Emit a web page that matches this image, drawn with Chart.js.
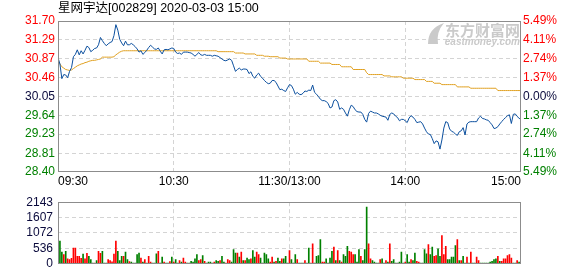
<!DOCTYPE html>
<html>
<head>
<meta charset="utf-8">
<script src="https://cdn.jsdelivr.net/npm/chart.js@4.4.0/dist/chart.umd.min.js"></script>
<style>
  body { margin: 0; background: #fff; }
  #wrap { position: relative; width: 578px; height: 276px; }
  canvas { position: absolute; left: 0; }
</style>
</head>
<body>
<div id="wrap">
  <canvas id="priceChart" width="578" height="190" style="top:0"></canvas>
  <canvas id="volChart" width="578" height="86" style="top:190px"></canvas>
</div>
<script>
const title = '星网宇达[002829] 2020-03-03 15:00';
const prevClose = 30.05;
const timeTicks = [0, 60, 120, 180, 240];
const timeLabels = ['09:30', '10:30', '11:30/13:00', '14:00', '15:00'];
const priceTicks = [28.40, 28.81, 29.23, 29.64, 30.05, 30.46, 30.87, 31.29, 31.70];
const pctLabels = ['5.49%', '4.11%', '2.74%', '1.37%', '0.00%', '1.37%', '2.74%', '4.11%', '5.49%'];
const volTicks = [0, 536, 1072, 1607, 2143];

// one value per minute, 09:30 .. 11:30/13:00 .. 15:00
const price = [
  30.90, 30.76, 30.44, 30.53, 30.52, 30.46, 30.60, 30.68, 30.92, 30.97,
  31.07, 30.96, 31.05, 30.98, 31.06, 31.15, 31.12, 31.03, 31.06, 31.10,
  31.11, 31.18, 31.34, 31.27, 31.21, 31.16, 31.20, 31.23, 31.25, 31.38,
  31.62, 31.50, 31.30, 31.22, 31.16, 31.26, 31.18, 31.18, 31.21, 31.18,
  31.14, 31.09, 31.02, 31.05, 30.97, 31.01, 31.06, 31.12, 31.17, 31.13,
  31.09, 31.08, 31.11, 31.04, 30.98, 31.07, 31.08, 31.07, 31.09, 31.11,
  31.10, 31.02, 30.99, 31.00, 30.97, 31.02, 31.02, 31.02, 31.01, 31.00,
  30.97, 30.93, 30.97, 31.01, 30.96, 30.95, 30.97, 30.95, 30.95, 30.95,
  30.93, 30.95, 30.94, 30.93, 30.90, 30.87, 30.84, 30.83, 30.85, 30.87,
  30.84, 30.72, 30.60, 30.64, 30.67, 30.63, 30.65, 30.65, 30.64, 30.55,
  30.59, 30.49, 30.45, 30.52, 30.56, 30.49, 30.45, 30.40, 30.36, 30.33,
  30.34, 30.40, 30.40, 30.36, 30.28, 30.20, 30.21, 30.18, 30.16, 30.24,
  30.31, 30.29, 30.21, 30.10, 30.14, 30.10, 30.09, 30.12, 30.17, 30.16,
  30.19, 30.18, 30.30, 30.14, 30.10, 30.05, 29.99, 29.96, 29.96, 29.94,
  29.90, 29.80, 29.82, 29.96, 29.98, 29.93, 29.77, 29.80, 29.77, 29.69,
  29.62, 29.76, 29.86, 29.83, 29.76, 29.72, 29.71, 29.71, 29.66, 29.55,
  29.49, 29.68, 29.73, 29.71, 29.69, 29.69, 29.67, 29.64, 29.62, 29.61,
  29.60, 29.53, 29.66, 29.69, 29.67, 29.62, 29.59, 29.52, 29.55, 29.55,
  29.52, 29.48, 29.58, 29.63, 29.60, 29.55, 29.48, 29.49, 29.50, 29.45,
  29.36, 29.28, 29.23, 29.22, 29.13, 29.02, 29.08, 29.06, 28.90, 29.10,
  29.36, 29.50, 29.48, 29.34, 29.29, 29.27, 29.23, 29.20, 29.28, 29.30,
  29.37, 29.21, 29.45, 29.49, 29.50, 29.50, 29.50, 29.50, 29.58, 29.62,
  29.57, 29.56, 29.54, 29.53, 29.48, 29.43, 29.35, 29.36, 29.39, 29.45,
  29.50, 29.55, 29.59, 29.63, 29.65, 29.46, 29.66, 29.67, 29.62, 29.57,
  29.56
];

const avgPrice = [
  30.84, 30.76, 30.70, 30.67, 30.64, 30.63, 30.62, 30.63, 30.66, 30.69,
  30.72, 30.74, 30.76, 30.77, 30.79, 30.80, 30.82, 30.83, 30.84, 30.84,
  30.85, 30.86, 30.87, 30.91, 30.91, 30.91, 30.91, 30.91, 30.91, 30.92,
  30.96, 30.99, 31.02, 31.04, 31.05, 31.05, 31.05, 31.05, 31.05, 31.05,
  31.05, 31.05, 31.05, 31.05, 31.05, 31.05, 31.05, 31.05, 31.05, 31.05,
  31.05, 31.05, 31.05, 31.05, 31.05, 31.05, 31.05, 31.05, 31.05, 31.05,
  31.05, 31.05, 31.05, 31.05, 31.05, 31.05, 31.05, 31.05, 31.05, 31.05,
  31.05, 31.05, 31.05, 31.05, 31.05, 31.05, 31.05, 31.05, 31.05, 31.05,
  31.05, 31.05, 31.05, 31.03, 31.03, 31.03, 31.03, 31.03, 31.03, 31.03,
  31.03, 31.03, 31.00, 31.00, 31.00, 31.00, 31.00, 30.98, 30.98, 30.98,
  30.98, 30.98, 30.98, 30.95, 30.95, 30.95, 30.95, 30.93, 30.93, 30.93,
  30.92, 30.92, 30.92, 30.92, 30.92, 30.89, 30.89, 30.89, 30.89, 30.87,
  30.87, 30.87, 30.87, 30.87, 30.87, 30.87, 30.87, 30.87, 30.87, 30.87,
  30.82, 30.82, 30.82, 30.82, 30.82, 30.82, 30.78, 30.78, 30.78, 30.78,
  30.78, 30.78, 30.75, 30.75, 30.75, 30.75, 30.75, 30.70, 30.70, 30.70,
  30.70, 30.70, 30.70, 30.64, 30.64, 30.64, 30.64, 30.64, 30.64, 30.64,
  30.57, 30.53, 30.53, 30.53, 30.53, 30.53, 30.53, 30.53, 30.53, 30.50,
  30.50, 30.50, 30.50, 30.48, 30.48, 30.48, 30.48, 30.48, 30.48, 30.45,
  30.45, 30.45, 30.45, 30.45, 30.45, 30.42, 30.42, 30.42, 30.42, 30.42,
  30.42, 30.38, 30.38, 30.38, 30.38, 30.34, 30.34, 30.34, 30.34, 30.31,
  30.31, 30.31, 30.31, 30.31, 30.31, 30.31, 30.31, 30.26, 30.26, 30.26,
  30.26, 30.26, 30.26, 30.26, 30.23, 30.23, 30.23, 30.23, 30.23, 30.23,
  30.23, 30.23, 30.23, 30.23, 30.23, 30.23, 30.23, 30.23, 30.18, 30.18,
  30.18, 30.18, 30.18, 30.18, 30.18, 30.18, 30.18, 30.18, 30.18, 30.18,
  30.18
];

const volume = [
  29, 791, 405, 318, 434, 174, 145, 193, 550, 550,
  261, 261, 193, 338, 174, 367, 261, 145, 29, 29,
  116, 434, 367, 434, 29, 29, 145, 116, 68, 338,
  791, 434, 116, 261, 261, 405, 145, 77, 58, 29,
  29, 318, 376, 203, 58, 145, 29, 261, 58, 29,
  29, 347, 434, 29, 232, 58, 29, 29, 77, 232,
  58, 145, 29, 116, 58, 203, 58, 29, 29, 87,
  58, 174, 318, 116, 145, 290, 87, 29, 58, 58,
  29, 58, 116, 87, 116, 261, 58, 29, 145, 116,
  58, 492, 376, 376, 232, 405, 116, 116, 203, 145,
  174, 463, 232, 405, 318, 203, 29, 376, 318, 174,
  58, 232, 58, 87, 203, 87, 174, 174, 261, 29,
  463, 145, 29, 318, 145, 29, 29, 29, 116, 29,
  550, 29, 695, 29, 261, 290, 840, 58, 58, 174,
  29, 203, 434, 579, 116, 463, 116, 58, 318, 261,
  608, 434, 405, 318, 318, 58, 492, 261, 116, 492,
  1969, 695, 174, 116, 58, 29, 29, 145, 174, 29,
  116, 58, 695, 87, 145, 29, 29, 58, 405, 29,
  58, 318, 58, 145, 116, 376, 87, 58, 29, 29,
  492, 347, 666, 318, 579, 261, 290, 521, 261, 984,
  318, 608, 145, 145, 232, 232, 637, 840, 116, 116,
  261, 29, 232, 29, 405, 29, 29, 232, 116, 29,
  29, 29, 29, 29, 58, 87, 145, 174, 261, 87,
  87, 174, 174, 290, 318, 203, 29, 29, 116, 58,
  29
];

// u = minute closed up (red), d = down (green)
const volDir = (
  'd' + 'dduduuuuuu' + 'uuduudddud' + 'uuddduuuuu' + 'dddudduddd' + 'ddududuudd' +
  'dudduddudu' + 'dduduudddd' + 'dduududddd' + 'uddudduuud' + 'ddudududdu' +
  'dduudddddu' + 'ududdudd' + 'd' +
  'udddudddud' + 'duudddduud' + 'dddudududd' + 'duuudddudd' + 'duuddddudd' +
  'ududddddd' + 'd' + 'uddudduuddd' + 'dudduudduu' + 'udddddudud' + 'dududduudd' +
  'd' + 'dddddduduu' + 'uuuuddud' + 'd'
).split('');

if (price.length !== 241 || avgPrice.length !== 241 || volume.length !== 241 || volDir.length !== 241) {
  throw new Error('lengths ' + price.length + ' ' + avgPrice.length + ' ' + volume.length + ' ' + volDir.length);
}

const RED = '#ff0000';
const GREEN = '#008000';
const NAVY = '#0a0a3c';
const GRID = '#d4d4d4';
const FRAME = '#8c8c8c';
const FONT = '"Liberation Sans", Arial, "Noto Sans CJK SC", sans-serif';

const levelColor = v => v > prevClose + 0.001 ? RED : (v < prevClose - 0.001 ? GREEN : NAVY);
const edgeClear = n => ctx => (ctx.index === 0 || ctx.index === n - 1) ? 'rgba(0,0,0,0)' : GRID;

const framePlugin = {
  id: 'frame',
  afterDraw(chart) {
    const { ctx, chartArea: a } = chart;
    ctx.save();
    ctx.strokeStyle = FRAME;
    ctx.lineWidth = 1;
    ctx.strokeRect(Math.round(a.left) + 0.5, Math.round(a.top) + 0.5,
      Math.round(a.right - a.left) - 1, Math.round(a.bottom - a.top) - 1);
    ctx.restore();
  }
};

const priceDecor = {
  id: 'priceDecor',
  beforeDatasetsDraw(chart) {
    const { ctx, chartArea: a } = chart;
    ctx.save();
    // watermark
    ctx.fillStyle = '#cacaca';
    ctx.textBaseline = 'middle';
    ctx.textAlign = 'right';
    ctx.font = 'bold 15px "Noto Sans CJK SC", sans-serif';
    ctx.fillText('东方财富网', a.right - 1, 30);
    ctx.font = 'italic bold 10px ' + FONT;
    ctx.fillText('eastmoney.com', a.right - 1, 42);
    ctx.beginPath();
    ctx.moveTo(428, 44);
    ctx.quadraticCurveTo(428, 28, 444, 23);
    ctx.quadraticCurveTo(436, 32, 438, 44);
    ctx.closePath();
    ctx.fill();
    ctx.restore();
  },
  afterDraw(chart) {
    const { ctx, chartArea: a } = chart;
    const xs = chart.scales.x;
    ctx.save();
    ctx.fillStyle = '#000';
    ctx.textBaseline = 'middle';
    ctx.font = '12.5px ' + FONT;
    ctx.textAlign = 'left';
    ctx.fillText(title, Math.round(a.left), 9);
    ctx.font = '12px ' + FONT;
    timeTicks.forEach((t, i) => {
      ctx.textAlign = i === 0 ? 'left' : (i === timeTicks.length - 1 ? 'right' : 'center');
      ctx.fillText(timeLabels[i], xs.getPixelForValue(t), 182);
    });
    ctx.restore();
  }
};

const xScale = {
  type: 'linear',
  min: 0,
  max: 240,
  offset: false,
  afterBuildTicks: s => { s.ticks = timeTicks.map(v => ({ value: v })); },
  afterFit: s => { s.height = 0; },
  ticks: { display: false },
  grid: { color: edgeClear(timeTicks.length), drawTicks: false, offset: false },
  border: { display: false, dash: [4, 3] }
};

new Chart(document.getElementById('priceChart'), {
  type: 'line',
  data: {
    datasets: [
      {
        label: 'price',
        data: price.map((v, i) => ({ x: i, y: v })),
        borderColor: '#0b4f9e',
        borderWidth: 1,
        pointRadius: 0,
        tension: 0
      },
      {
        label: 'average',
        data: avgPrice.map((v, i) => ({ x: i, y: v })),
        borderColor: '#e0a020',
        borderWidth: 1,
        pointRadius: 0,
        tension: 0
      }
    ]
  },
  options: {
    responsive: false,
    animation: false,
    devicePixelRatio: 1,
    layout: { padding: { top: 21, bottom: 18, left: 0, right: 0 } },
    plugins: { legend: { display: false }, tooltip: { enabled: false } },
    scales: {
      x: xScale,
      y: {
        position: 'left',
        min: priceTicks[0],
        max: priceTicks[priceTicks.length - 1],
        afterBuildTicks: s => { s.ticks = priceTicks.map(v => ({ value: v })); },
        afterFit: s => { s.width = 58; },
        ticks: {
          autoSkip: false,
          padding: 3,
          font: { family: FONT, size: 12 },
          color: ctx => levelColor(ctx.tick.value),
          callback: v => v.toFixed(2)
        },
        grid: { color: edgeClear(priceTicks.length), drawTicks: false },
        border: { display: false, dash: [4, 3] }
      },
      y2: {
        position: 'right',
        min: priceTicks[0],
        max: priceTicks[priceTicks.length - 1],
        afterBuildTicks: s => { s.ticks = priceTicks.map(v => ({ value: v })); },
        afterFit: s => { s.width = 57; },
        ticks: {
          autoSkip: false,
          padding: 2,
          font: { family: FONT, size: 12 },
          color: ctx => levelColor(ctx.tick.value),
          callback: (v, i) => pctLabels[i]
        },
        grid: { display: false, drawTicks: false },
        border: { display: false }
      }
    }
  },
  plugins: [framePlugin, priceDecor]
});

new Chart(document.getElementById('volChart'), {
  type: 'bar',
  data: {
    datasets: [{
      label: 'volume',
      data: volume.map((v, i) => ({ x: i, y: v })),
      backgroundColor: volDir.map(d => d === 'u' ? RED : GREEN),
      borderWidth: 0,
      barThickness: 1,
      grouped: false
    }]
  },
  options: {
    responsive: false,
    animation: false,
    devicePixelRatio: 1,
    layout: { padding: { top: 6, bottom: 6, left: 0, right: 57 } },
    plugins: { legend: { display: false }, tooltip: { enabled: false } },
    scales: {
      x: xScale,
      y: {
        position: 'left',
        min: 0,
        max: volTicks[volTicks.length - 1],
        afterBuildTicks: s => { s.ticks = volTicks.map(v => ({ value: v })); },
        afterFit: s => { s.width = 58; },
        ticks: {
          autoSkip: false,
          padding: 5,
          font: { family: FONT, size: 12 },
          color: NAVY,
          callback: v => String(v)
        },
        grid: { color: edgeClear(volTicks.length), drawTicks: false },
        border: { display: false, dash: [4, 3] }
      }
    }
  },
  plugins: [framePlugin]
});
</script>
</body>
</html>
